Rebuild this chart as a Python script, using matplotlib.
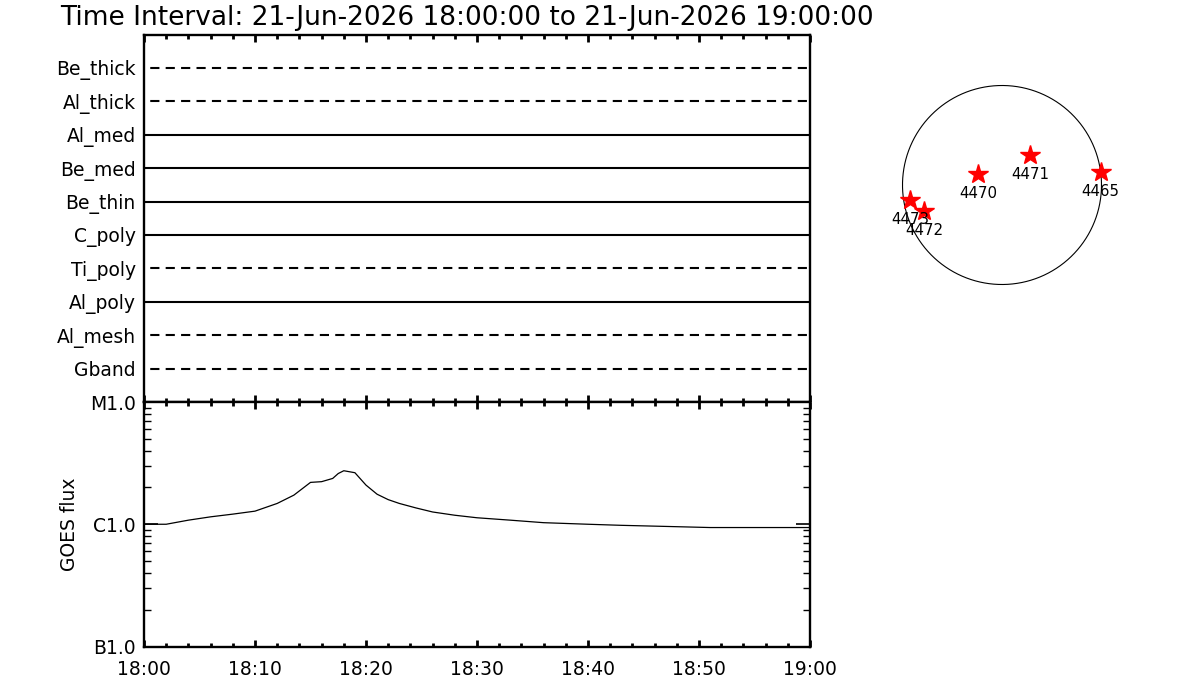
import numpy as np
import matplotlib
matplotlib.use("Agg")
import matplotlib.pyplot as plt
from matplotlib.ticker import FixedLocator, NullFormatter, LogLocator

# detector rows (top to bottom) and whether they are drawn dashed
rows = ['Be_thick', 'Al_thick', 'Al_med', 'Be_med', 'Be_thin',
        'C_poly', 'Ti_poly', 'Al_poly', 'Al_mesh', 'Gband']
row_dashed = [True, True, False, False, False, False, True, False, True, True]
row_start = [0, 0, 0, 0, 0, 0, 0, 0, 0, 0]      # minutes after 18:00
row_end = [60, 60, 60, 60, 60, 60, 60, 60, 60, 60]

# GOES light curve (minutes after 18:00, W/m^2)
goes_t = [0, 2, 4, 6, 8, 10, 12, 13.5, 15, 16, 17, 17.5, 18, 19, 20, 21, 22, 23,
          24.5, 26, 28, 30, 33, 36, 40, 43, 47, 51, 55, 60]
goes_flux = [1.0e-6, 1.0e-6, 1.08e-6, 1.15e-6, 1.21e-6, 1.28e-6, 1.48e-6, 1.73e-6,
             2.2e-6, 2.23e-6, 2.37e-6, 2.6e-6, 2.74e-6, 2.64e-6, 2.09e-6, 1.76e-6,
             1.59e-6, 1.48e-6, 1.36e-6, 1.26e-6, 1.185e-6, 1.13e-6, 1.08e-6, 1.03e-6,
             1.0e-6, 0.98e-6, 0.96e-6, 0.94e-6, 0.94e-6, 0.94e-6]

time_ticks = [0, 10, 20, 30, 40, 50, 60]
time_labels = ['18:00', '18:10', '18:20', '18:30', '18:40', '18:50', '19:00']
goes_ticks = [1e-7, 1e-6, 1e-5]
goes_labels = ['B1.0', 'C1.0', 'M1.0']

# active regions on the disc (arcsec)
ar_num = ['4473', '4472', '4470', '4471', '4465']
ar_x = [-874, -741, -225, 266, 938]
ar_y = [-143, -244, 105, 285, 126]
sun_r = 945

title = 'Time Interval: 21-Jun-2026 18:00:00 to 21-Jun-2026 19:00:00'

plt.rcParams['font.family'] = 'DejaVu Sans'
fs = 13.5
W, H = 1200, 700
fig = plt.figure(figsize=(12, 7), dpi=100)


def px_axes(x0, y0, x1, y1):
    return fig.add_axes([x0 / W, 1 - y1 / H, (x1 - x0) / W, (y1 - y0) / H])


ax1 = px_axes(144, 34.5, 810, 402)
ax2 = px_axes(144, 402, 810, 646.5)

for ax in (ax1, ax2):
    for s in ax.spines.values():
        s.set_linewidth(1.7)
    ax.set_xlim(0, 60)
    ax.xaxis.set_major_locator(FixedLocator(time_ticks))
    ax.xaxis.set_minor_locator(FixedLocator(np.arange(0, 61, 2)))
    ax.tick_params(axis='x', which='major', direction='in', top=True, bottom=True,
                   length=5, width=2)
    ax.tick_params(axis='x', which='minor', direction='in', top=True, bottom=True,
                   length=3, width=2)

# top panel
ypos = list(range(len(rows), 0, -1))
for name, yy, d, t0, t1 in zip(rows, ypos, row_dashed, row_start, row_end):
    ls = (4.4, (4.4, 3.0)) if d else '-'
    ax1.plot([t0, t1], [yy, yy], color='black', lw=1.5, linestyle=ls,
             solid_capstyle='butt', dash_capstyle='butt')
ax1.set_ylim(0, len(rows) + 1)
ax1.set_yticks(ypos)
ax1.set_yticklabels(rows, fontsize=fs)
ax1.tick_params(axis='y', length=0, pad=6)
ax1.xaxis.set_major_formatter(NullFormatter())

# GOES panel
ax2.plot(goes_t, goes_flux, color='black', lw=0.9)
ax2.set_yscale('log')
ax2.set_ylim(1e-7, 1e-5)
ax2.set_yticks(goes_ticks)
ax2.set_yticklabels(goes_labels, fontsize=fs)
ax2.yaxis.set_minor_locator(LogLocator(base=10, subs=np.arange(2, 10)))
ax2.yaxis.set_minor_formatter(NullFormatter())
ax2.tick_params(axis='y', which='major', direction='in', left=True, right=True,
                length=10, width=1.2, pad=6)
ax2.tick_params(axis='y', which='minor', direction='in', left=True, right=True,
                length=5, width=1)
ax2.set_xticklabels(time_labels, fontsize=fs)
ax2.tick_params(axis='x', which='major', pad=10)
ax2.set_ylabel('GOES flux', fontsize=fs)
ax2.yaxis.set_label_coords(-0.097, 0.5)

# solar disc
half = 110
ax3 = px_axes(1002 - half, 185 - half, 1002 + half, 185 + half)
lim = half * sun_r / 99.5
ax3.set_xlim(-lim, lim)
ax3.set_ylim(-lim, lim)
ax3.set_aspect('equal')
ax3.axis('off')
th = np.linspace(0, 2 * np.pi, 400)
ax3.plot(sun_r * np.cos(th), sun_r * np.sin(th), color='black', lw=0.8)
ax3.plot(ar_x, ar_y, linestyle='none', marker='*', color='red', ms=15, mec='red')
for n, x, y in zip(ar_num, ar_x, ar_y):
    ax3.annotate(n, (x, y), xytext=(0, -14), textcoords='offset points',
                 ha='center', va='center', fontsize=10.8)

fig.text(60 / W, 1 - 25 / H, title, fontsize=19, ha='left', va='baseline')

fig.savefig('out.png', dpi=100)
